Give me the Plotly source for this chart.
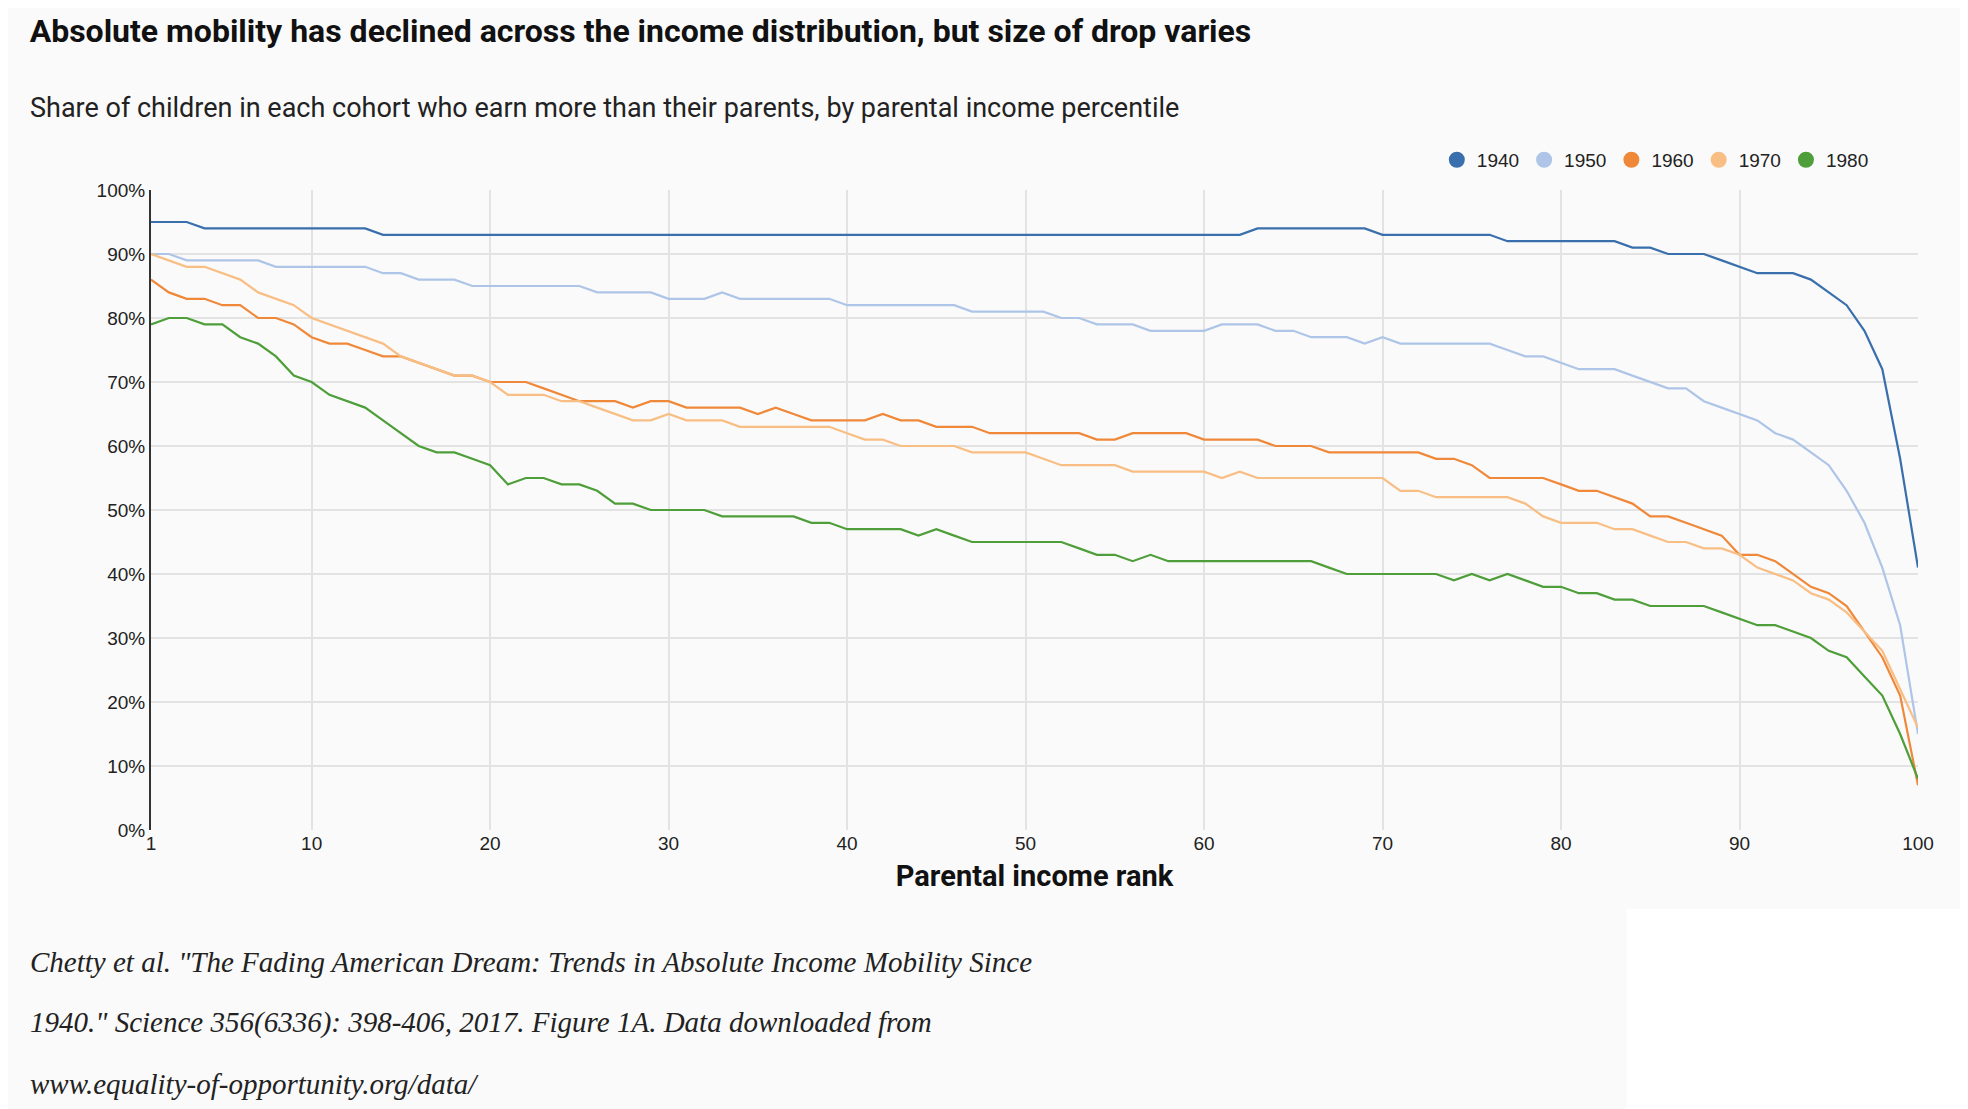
import plotly.graph_objects as go

ranks = list(range(1, 101))
cohorts = ["1940", "1950", "1960", "1970", "1980"]
colors = ["#3a6fad", "#aec5e8", "#f0883a", "#f8be84", "#4e9e3a"]

y1940 = [95,95,95,94,94,94,94,94,94,94, 94,94,94,93,93,93,93,93,93,93,
         93,93,93,93,93,93,93,93,93,93, 93,93,93,93,93,93,93,93,93,93,
         93,93,93,93,93,93,93,93,93,93, 93,93,93,93,93,93,93,93,93,93,
         93,93,94,94,94,94,94,94,94,93, 93,93,93,93,93,93,92,92,92,92,
         92,92,92,91,91,90,90,90,89,88, 87,87,87,86,84,82,78,72,58,41]
y1950 = [90,90,89,89,89,89,89,88,88,88, 88,88,88,87,87,86,86,86,85,85,
         85,85,85,85,85,84,84,84,84,83, 83,83,84,83,83,83,83,83,83,82,
         82,82,82,82,82,82,81,81,81,81, 81,80,80,79,79,79,78,78,78,78,
         79,79,79,78,78,77,77,77,76,77, 76,76,76,76,76,76,75,74,74,73,
         72,72,72,71,70,69,69,67,66,65, 64,62,61,59,57,53,48,41,32,15]
y1960 = [86,84,83,83,82,82,80,80,79,77, 76,76,75,74,74,73,72,71,71,70,
         70,70,69,68,67,67,67,66,67,67, 66,66,66,66,65,66,65,64,64,64,
         64,65,64,64,63,63,63,62,62,62, 62,62,62,61,61,62,62,62,62,61,
         61,61,61,60,60,60,59,59,59,59, 59,59,58,58,57,55,55,55,55,54,
         53,53,52,51,49,49,48,47,46,43, 43,42,40,38,37,35,31,27,21,7]
y1970 = [90,89,88,88,87,86,84,83,82,80, 79,78,77,76,74,73,72,71,71,70,
         68,68,68,67,67,66,65,64,64,65, 64,64,64,63,63,63,63,63,63,62,
         61,61,60,60,60,60,59,59,59,59, 58,57,57,57,57,56,56,56,56,56,
         55,56,55,55,55,55,55,55,55,55, 53,53,52,52,52,52,52,51,49,48,
         48,48,47,47,46,45,45,44,44,43, 41,40,39,37,36,34,31,28,22,16]
y1980 = [79,80,80,79,79,77,76,74,71,70, 68,67,66,64,62,60,59,59,58,57,
         54,55,55,54,54,53,51,51,50,50, 50,50,49,49,49,49,49,48,48,47,
         47,47,47,46,47,46,45,45,45,45, 45,45,44,43,43,42,43,42,42,42,
         42,42,42,42,42,42,41,40,40,40, 40,40,40,39,40,39,40,39,38,38,
         37,37,36,36,35,35,35,35,34,33, 32,32,31,30,28,27,24,21,15,8]
series = [y1940, y1950, y1960, y1970, y1980]

x_ticks = [1, 10, 20, 30, 40, 50, 60, 70, 80, 90, 100]
y_ticks = [0, 10, 20, 30, 40, 50, 60, 70, 80, 90, 100]
y_tick_labels = [f"{v}%" for v in y_ticks]

fig = go.Figure()
for name, ys, c in zip(cohorts, series, colors):
    fig.add_trace(go.Scatter(x=ranks, y=ys, name=name, mode="lines",
                             line=dict(color=c, width=2.2), showlegend=False))
for name, c in zip(cohorts, colors):
    fig.add_trace(go.Scatter(x=[None], y=[None], name=name, mode="markers",
                             marker=dict(color=c, size=17, symbol="circle")))

fig.update_layout(
    width=1968, height=1109,
    paper_bgcolor="#fafafa", plot_bgcolor="#fafafa",
    margin=dict(l=143, r=58, t=182, b=287),
    font=dict(family="Liberation Sans, Arial, sans-serif", color="#222", size=18),
    title=dict(text="<b>Absolute mobility has declined across the income distribution, but size of drop varies</b>",
               x=0.011, xanchor="left", y=0.979, yanchor="middle",
               font=dict(family="Liberation Sans Narrow, Roboto, sans-serif", size=32, color="#111")),
    legend=dict(orientation="h", x=0.975, xanchor="right", y=1.047, yanchor="middle",
                font=dict(size=19), itemwidth=30, bgcolor="rgba(0,0,0,0)"),
    showlegend=True,
)
fig.update_xaxes(range=[1, 100], tickvals=x_ticks, showgrid=True, gridcolor="#e3e3e3",
                 gridwidth=1.5, zeroline=False, showline=False, ticks="",
                 tickfont=dict(size=19, color="#222"),
                 title=dict(text="<b>Parental income rank</b>", standoff=12,
                            font=dict(size=29, family="Liberation Sans Narrow, Roboto, sans-serif", color="#111")))
fig.update_yaxes(range=[0, 100], tickvals=y_ticks, ticktext=y_tick_labels, showgrid=True,
                 gridcolor="#e3e3e3", gridwidth=1.5, zeroline=False, showline=True,
                 linecolor="#333", linewidth=2, ticks="", tickfont=dict(size=19, color="#222"))

fig.add_annotation(text="Share of children in each cohort who earn more than their parents, by parental income percentile",
                   xref="paper", yref="paper", x=-0.0695, y=1.128, xanchor="left", yanchor="middle",
                   showarrow=False, font=dict(size=27, family="Liberation Sans Narrow, Roboto, sans-serif", color="#222"))
foot = ['Chetty et al. "The Fading American Dream: Trends in Absolute Income Mobility Since',
        '1940." Science 356(6336): 398-406, 2017. Figure 1A. Data downloaded from',
        'www.equality-of-opportunity.org/data/']
for i, line in enumerate(foot):
    fig.add_annotation(text="<i>" + line + "</i>", xref="paper", yref="paper",
                       x=-0.0695, y=-0.206 - i * 0.0955, xanchor="left", yanchor="middle", showarrow=False,
                       font=dict(size=29, family="Liberation Serif, DejaVu Serif, serif", color="#222"))
fig.add_shape(type="rect", xref="paper", yref="paper", x0=0.835, x1=1.04, y0=-0.45, y1=-0.123,
              fillcolor="white", line=dict(width=0), layer="below")

fig.write_html("out.html")
